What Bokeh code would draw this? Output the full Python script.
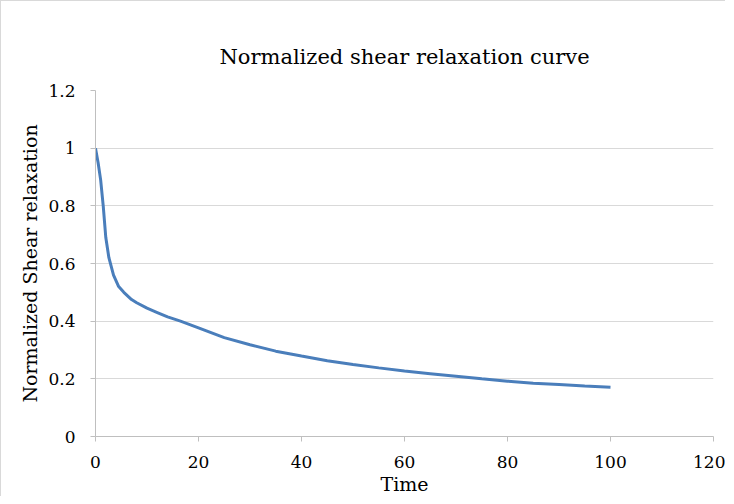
from bokeh.plotting import figure
from bokeh.embed import file_html
from bokeh.resources import INLINE
from bokeh.models import Range1d, FixedTicker

time = [0, 0.5, 1, 1.5, 2, 2.6, 3.5, 4.5, 5.5, 7, 8, 10, 12, 14, 16.5, 20, 25, 30,
        35, 40, 45, 50, 55, 60, 65, 70, 75, 80, 85, 90, 95, 100]
shear = [1.0, 0.95, 0.89, 0.80, 0.69, 0.62, 0.56, 0.52, 0.50, 0.475, 0.464, 0.445,
         0.43, 0.415, 0.40, 0.377, 0.343, 0.318, 0.296, 0.279, 0.263, 0.25, 0.238,
         0.227, 0.218, 0.209, 0.20, 0.192, 0.185, 0.18, 0.175, 0.171]
x_ticks = [0, 20, 40, 60, 80, 100, 120]
y_ticks = [0, 0.2, 0.4, 0.6, 0.8, 1.0, 1.2]

FONT = "DejaVu Serif"

p = figure(width=725, height=496, output_backend="svg", toolbar_location=None,
           title="Normalized shear relaxation curve",
           x_range=Range1d(0, 120), y_range=Range1d(0, 1.2),
           min_border_left=94, min_border_right=13, min_border_top=89, min_border_bottom=60)
p.styles = {"border-left": "1px solid #d9d9d9", "border-top": "1px solid #d9d9d9"}

p.title.text_font = FONT
p.title.text_font_size = "21px"
p.title.text_font_style = "normal"
p.title.align = "center"
p.title.text_color = "#000000"
p.title.standoff = 43

p.line(time, shear, line_color="#4a7ebb", line_width=3)

p.outline_line_color = None
p.xgrid.grid_line_color = None
p.ygrid.grid_line_color = "#d9d9d9"
p.ygrid.grid_line_width = 1

p.xaxis.ticker = FixedTicker(ticks=x_ticks)
p.yaxis.ticker = FixedTicker(ticks=y_ticks)

for ax in (p.xaxis[0], p.yaxis[0]):
    ax.axis_line_color = "#bfbfbf"
    ax.major_tick_line_color = "#bfbfbf"
    ax.major_tick_out = 5
    ax.major_tick_in = 0
    ax.minor_tick_line_color = None
    ax.major_label_text_font = FONT
    ax.major_label_text_font_size = "17px"
    ax.major_label_text_color = "#000000"
    ax.axis_label_text_font = FONT
    ax.axis_label_text_font_size = "19px"
    ax.axis_label_text_font_style = "normal"
    ax.axis_label_text_color = "#000000"

p.xaxis.axis_label = "Time"
p.yaxis.axis_label = "Normalized Shear relaxation"
p.xaxis.major_label_standoff = 14
p.yaxis.major_label_standoff = 15
p.xaxis.axis_label_standoff = 2
p.yaxis.axis_label_standoff = 4
p.yaxis.major_label_overrides = {0: "0", 0.2: "0.2", 0.4: "0.4", 0.6: "0.6", 0.8: "0.8", 1.0: "1", 1.2: "1.2"}

open("out.html", "w").write(file_html(p, INLINE))
